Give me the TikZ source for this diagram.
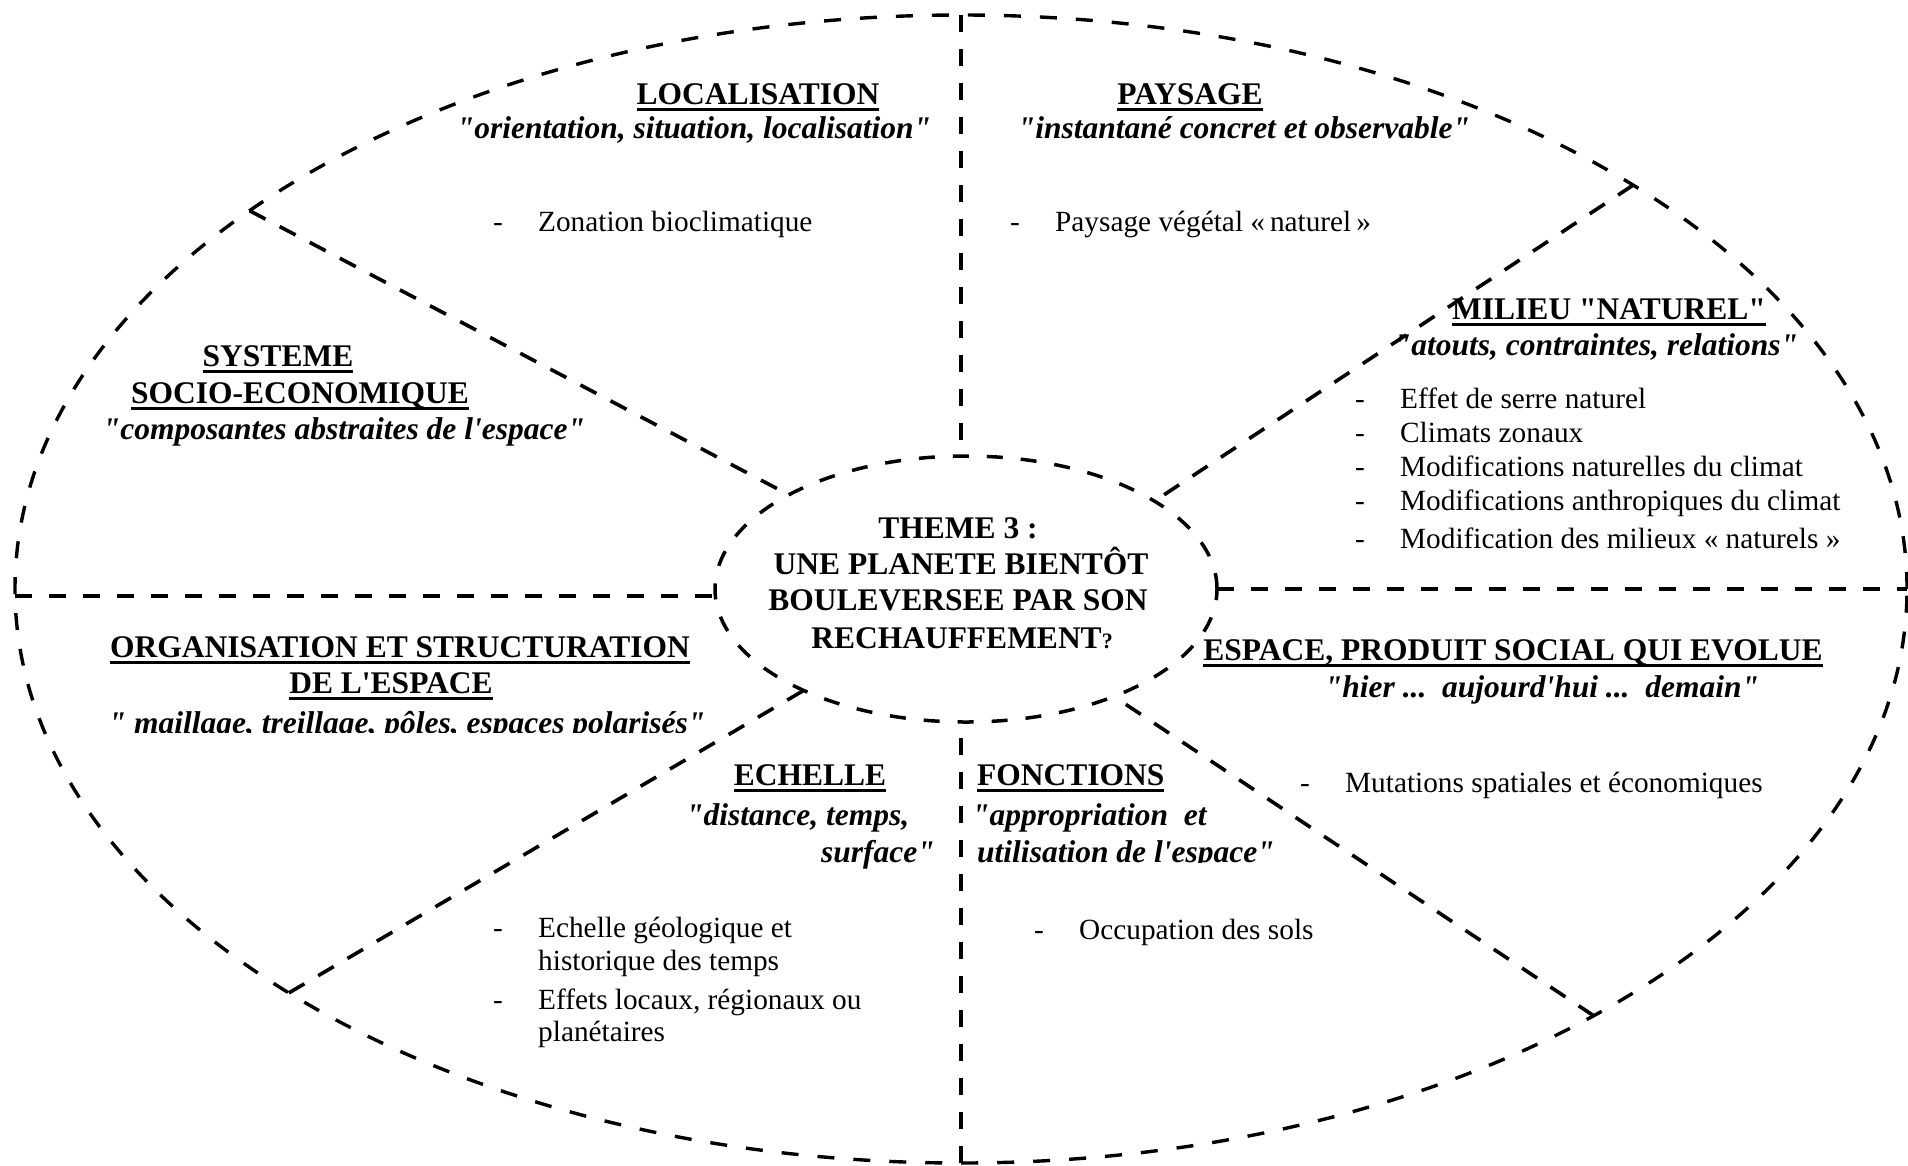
\documentclass[tikz,border=0pt]{standalone}
\usepackage{fontspec}
\setmainfont{Liberation Serif}[Ligatures=TeXOff]
\usetikzlibrary{shapes.geometric}
\newsavebox\hdbox
\newcommand\ulbox[1]{\sbox\hdbox{#1}\rlap{\rule[-7pt]{\wd\hdbox}{3pt}}\usebox\hdbox}
\newcommand\aq{\textquotesingle}
\newcommand\dashitem[1]{\makebox[45pt][l]{-}#1}
\tikzset{
  bigell/.style={draw, ellipse, line width=3.4pt, dash pattern=on 17pt off 19pt, inner sep=0pt, outer sep=0pt},
  smallell/.style={draw, ellipse, line width=3.5pt, dash pattern=on 16pt off 18pt, inner sep=0pt, outer sep=0pt},
  sepline/.style={line width=4.6pt, dash pattern=on 17pt off 17pt},
  radline/.style={line width=3.6pt, dash pattern=on 18pt off 16pt},
  hd/.style={font=\fontsize{31.5}{36}\selectfont\bfseries, inner sep=0pt, anchor=base},
  sub/.style={font=\fontsize{31.5}{36}\selectfont\bfseries\itshape, inner sep=0pt, anchor=base},
  ctr/.style={font=\fontsize{31.5}{36}\selectfont\bfseries, inner sep=0pt, anchor=base},
  itm/.style={font=\fontsize{29.3}{34}\selectfont, inner sep=0pt, anchor=base west},
}
\begin{document}
\begin{tikzpicture}[x=1pt,y=-1pt]
\useasboundingbox (0,0) rectangle (1908,1165);
% ellipses
\node[bigell, minimum width=1892pt, minimum height=1148pt] (outer) at (961,589) {};
\node[smallell, minimum width=502pt, minimum height=266pt] (inner) at (966,589) {};
% separators
\draw[sepline] (outer.north) -- (outer.north |- inner.north);
\draw[sepline] (outer.south) -- (outer.south |- inner.south);
\draw[sepline] ([yshift=-7pt]outer.west) -- ([yshift=-7pt]inner.west);
\draw[sepline] (inner.east) -- (outer.east);
\draw[radline] (outer.152) -- (inner.152);
\draw[radline] (outer.31) -- (inner.25);
\draw[radline] (outer.211) -- (inner.212);
\draw[radline] (outer.326) -- (inner.324);
% centre
\node[ctr] (t1) at (958,538) {THEME 3 :};
\node[ctr] (t2) at (961,574) {UNE PLANETE BIENTÔT};
\node[ctr] (t3) at (958,610) {BOULEVERSEE PAR SON};
\node[ctr] (t4) at (962,648) {RECHAUFFEMENT{\fontsize{22}{22}\selectfont ?}};
% localisation
\node[hd] (loc) at (758,104) {\ulbox{LOCALISATION}};
\node[sub] (locq) at (694,138) {"orientation, situation, localisation"};
\node[itm] (loci) at (493,231) {\dashitem{Zonation bioclimatique}};
% paysage
\node[hd] (pay) at (1190,104) {\ulbox{PAYSAGE}};
\node[sub] (payq) at (1244,138) {"instantané concret et observable"};
\node[itm] (payi) at (1010,231) {\dashitem{Paysage végétal «\,naturel\,»}};
% milieu
\node[hd] (mil) at (1609,319) {\ulbox{MILIEU "NATUREL"}};
\node[sub] (milq) at (1596,355) {"atouts, contraintes, relations"};
\node[itm] (mil1) at (1355,408) {\dashitem{Effet de serre naturel}};
\node[itm] (mil2) at (1355,442) {\dashitem{Climats zonaux}};
\node[itm] (mil3) at (1355,476) {\dashitem{Modifications naturelles du climat}};
\node[itm] (mil4) at (1355,510) {\dashitem{Modifications anthropiques du climat}};
\node[itm] (mil5) at (1355,548) {\dashitem{Modification des milieux « naturels »}};
% systeme
\node[hd] (sys1) at (278,366) {\ulbox{SYSTEME}};
\node[hd] (sys2) at (300,403) {\ulbox{SOCIO-ECONOMIQUE}};
\node[sub] (sysq) at (344,439) {"composantes abstraites de l\aq espace"};
% organisation
\node[hd] (org1) at (400,657) {\ulbox{ORGANISATION ET STRUCTURATION}};
\node[hd] (org2) at (391,693) {\ulbox{DE L\aq ESPACE}};
\begin{scope}
\clip (0,0) rectangle (1908,732);
\node[sub] (orgq) at (407,733) {" maillage, treillage, pôles, espaces polarisés"};
\end{scope}
% echelle
\node[hd] (ech) at (810,785) {\ulbox{ECHELLE}};
\node[sub, anchor=base west] (echq1) at (686,825) {"distance, temps,};
\node[sub, anchor=base west] (echq2) at (821,862) {surface"};
\node[itm] (ech1) at (493,937) {\dashitem{Echelle géologique et}};
\node[itm] (ech2) at (538,970) {historique des temps};
\node[itm] (ech3) at (493,1009) {\dashitem{Effets locaux, régionaux ou}};
\node[itm] (ech4) at (538,1041) {planétaires};
% fonctions
\node[hd, anchor=base west] (fon) at (977,785) {\ulbox{FONCTIONS}};
\node[sub, anchor=base west] (fonq1) at (972,825) {"appropriation\ \ et};
\begin{scope}
\clip (0,0) rectangle (1908,862);
\node[sub, anchor=base west] (fonq2) at (977,862) {utilisation de l\aq espace"};
\end{scope}
\node[itm] (fon1) at (1034,939) {\dashitem{Occupation des sols}};
% espace
\node[hd] (esp) at (1513,660) {\ulbox{ESPACE, PRODUIT SOCIAL QUI EVOLUE}};
\node[sub] (espq) at (1542,697) {"hier ...\ \ aujourd\aq hui ...\ \ demain"};
\node[itm] (esp1) at (1300,792) {\dashitem{Mutations spatiales et économiques}};
\end{tikzpicture}
\end{document}
